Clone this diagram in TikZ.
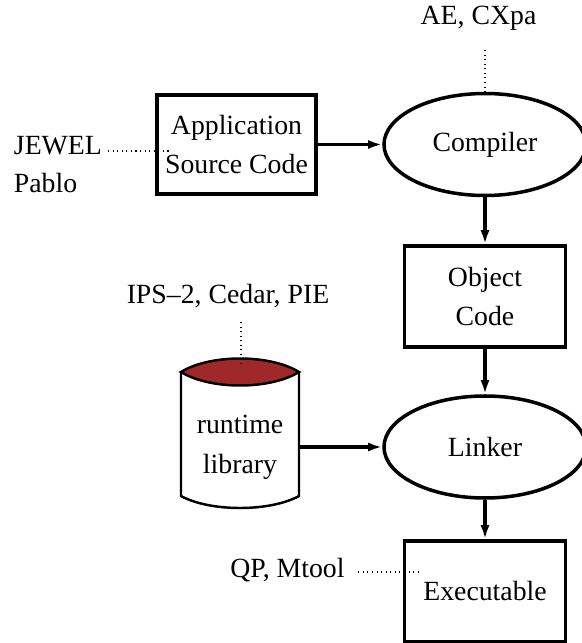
\documentclass[tikz,border=0pt]{standalone}
\usepackage{fontspec}
\setmainfont{Liberation Serif}
\usetikzlibrary{arrows.meta,positioning,shapes.geometric,calc}
\definecolor{libred}{RGB}{160,40,40}

\begin{document}
\begin{tikzpicture}[
  font=\fontsize{15.8}{22.7}\selectfont,
  sbox/.style={draw,line width=2pt,minimum width=3.22cm,minimum height=2.02cm,align=center},
  tool/.style={draw,ellipse,line width=2pt,minimum width=4.04cm,minimum height=2.04cm},
  arr/.style={-{Latex[length=2.8mm,width=1.8mm]},line width=1.9pt},
  note/.style={dotted,line width=0.6pt}
]
  \useasboundingbox (0,0) rectangle (11.64,12.86);
  \node[sbox,minimum width=3.18cm,minimum height=1.98cm] (app) at (4.73,9.97) {Application\\Source Code};
  \node[tool] (comp) at (9.70,9.97) {Compiler};
  \node[sbox] (obj) at (9.70,6.93) {Object\\Code};
  \node[tool] (link) at (9.70,3.92) {Linker};
  \node[sbox] (exe) at (9.70,1.03) {Executable};
  % runtime library drum
  \draw[line width=1.4pt,fill=white] (3.62,5.42) -- (3.62,2.94)
    .. controls (4.2,2.62) and (5.4,2.62) .. (5.98,2.94) -- (5.98,5.42);
  \draw[line width=1.4pt,fill=libred] (3.62,5.42) .. controls (4.2,5.78) and (5.4,5.78) .. (5.98,5.42)
    .. controls (5.4,5.06) and (4.2,5.06) .. cycle;
  \node[minimum width=2.36cm,align=center] (lib) at (4.80,3.92) {runtime\\library};
  \draw[arr] (app) -- (comp);
  \draw[arr] (comp) -- (obj);
  \draw[arr] (obj) -- (link);
  \draw[arr] (lib) -- (link);
  \draw[arr] (link) -- (exe);
  % tools attached by dotted leaders
  \node (ae) at (9.57,12.49) {AE, CXpa};
  \coordinate (ae-foot) at (9.70,11.86);
  \draw[note] (ae-foot) -- (comp.north);
  \node[anchor=west] (jewel) at (0.155,9.94) {JEWEL};
  \node[anchor=west] (pablo) at (0.155,9.20) {Pablo};
  \coordinate (jewel-in) at (3.40,9.84);
  \draw[note] (jewel.east |- jewel-in) -- (jewel-in);
  \node (ips) at (4.56,6.94) {IPS--2, Cedar, PIE};
  \coordinate (ips-foot) at (4.82,6.42);
  \coordinate (lid) at (4.82,5.52);
  \draw[note] (ips-foot) -- (lid);
  \node (qp) at (5.75,1.46) {QP, Mtool};
  \coordinate (qp-in) at (8.36,1.42);
  \draw[note,shorten <=0.15cm] (qp.east |- qp-in) -- (qp-in);
\end{tikzpicture}
\end{document}
